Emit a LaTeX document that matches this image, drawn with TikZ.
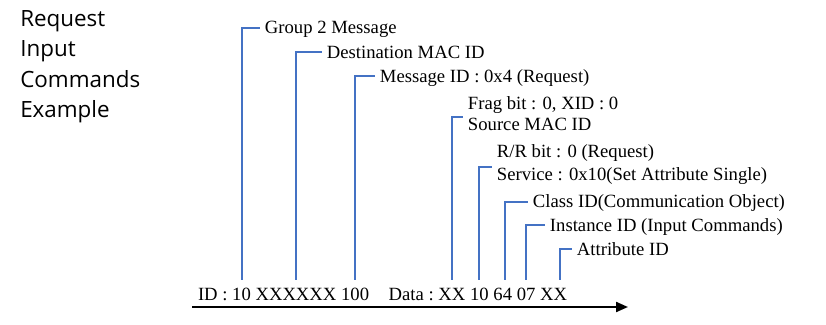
\documentclass[tikz,border=0pt]{standalone}
\usepackage{fontspec}
\setmainfont{Liberation Serif}
\newfontfamily\titlefont{Open Sans}
\usetikzlibrary{arrows.meta,positioning}
\definecolor{bracketblue}{HTML}{4472C4}
\tikzset{
  fieldbox/.style={
    inner xsep=0pt, inner ysep=6pt, outer sep=0pt,
    text height=9.24pt, text depth=3pt,
    font=\fontsize{14}{17}\selectfont
  },
  labelnode/.style={
    anchor=west, inner xsep=3.5pt, inner ysep=1.2pt, outer sep=0pt,
    text height=9.24pt, text depth=0pt,
    font=\fontsize{14}{17}\selectfont
  },
  titletext/.style={
    anchor=north west, inner sep=0pt, align=left,
    font=\titlefont\fontsize{16.8}{22.9}\selectfont
  },
  bracketline/.style={draw=bracketblue, line width=1.5pt},
  timeline/.style={-{Triangle[length=9pt,width=7.5pt]}, line width=1.6pt},
}

\begin{document}
\begin{tikzpicture}[x=0.75pt, y=-0.75pt]
  \useasboundingbox (0,0) rectangle (826,325);
  \node[titletext] (title) at (20,10) {Request\\Input\\Commands\\Example};
  % Identifier field
  \node[fieldbox, anchor=base west] (idl) at (198,300) {ID :};
  \node[fieldbox, base right=3.5pt of idl] (b1) {10};
  \node[fieldbox, base right=3.5pt of b1] (b2) {XXXXXX};
  \node[fieldbox, base right=3.5pt of b2] (b3) {100};
  % Data field
  \node[fieldbox, base right=14.7pt of b3] (datal) {Data :};
  \node[fieldbox, base right=3.5pt of datal] (d1) {XX};
  \node[fieldbox, base right=3.5pt of d1] (d2) {10};
  \node[fieldbox, base right=3.5pt of d2] (d3) {64};
  \node[fieldbox, base right=3.5pt of d3] (d4) {07};
  \node[fieldbox, base right=3.5pt of d4] (d5) {XX};
  \coordinate (tl) at (192,307);
  \coordinate (tr) at (628,307);
  \draw[timeline] (tl) -- (tr);
  % Labels
  \node[labelnode] (grp) at (260.3,27.5) {Group 2 Message};
  \node[labelnode] (dst) at (322.3,52) {Destination MAC ID};
  \node[labelnode] (msg) at (375.3,76) {Message ID : 0x4 (Request)};
  \node[labelnode] (frag) at (463.3,103.1) {Frag bit : 0, XID : 0};
  \node[labelnode] (src) at (463.3,124.8) {Source MAC ID};
  \node[labelnode] (rr) at (492.3,151.8) {R/R bit : 0 (Request)};
  \node[labelnode] (svc) at (492.3,174.5) {Service : 0x10(Set Attribute Single)};
  \node[labelnode] (cls) at (528.3,201.7) {Class ID(Communication Object)};
  \node[labelnode] (ins) at (545.3,225) {Instance ID (Input Commands)};
  \node[labelnode] (att) at (572.3,249) {Attribute ID};
  % Brackets
  \draw[bracketline] (b1.north) |- (grp.west);
  \draw[bracketline] (b2.north) |- (dst.west);
  \draw[bracketline] (b3.north) |- (msg.west);
  \draw[bracketline] (d1.north) |- (src.north west);
  \draw[bracketline] (d2.north) |- (svc.north west);
  \draw[bracketline] ([xshift=2pt]d3.north) |- (cls.west);
  \draw[bracketline] (d4.north) |- (ins.west);
  \draw[bracketline] ([xshift=4.5pt]d5.north) |- (att.west);
\end{tikzpicture}
\end{document}
